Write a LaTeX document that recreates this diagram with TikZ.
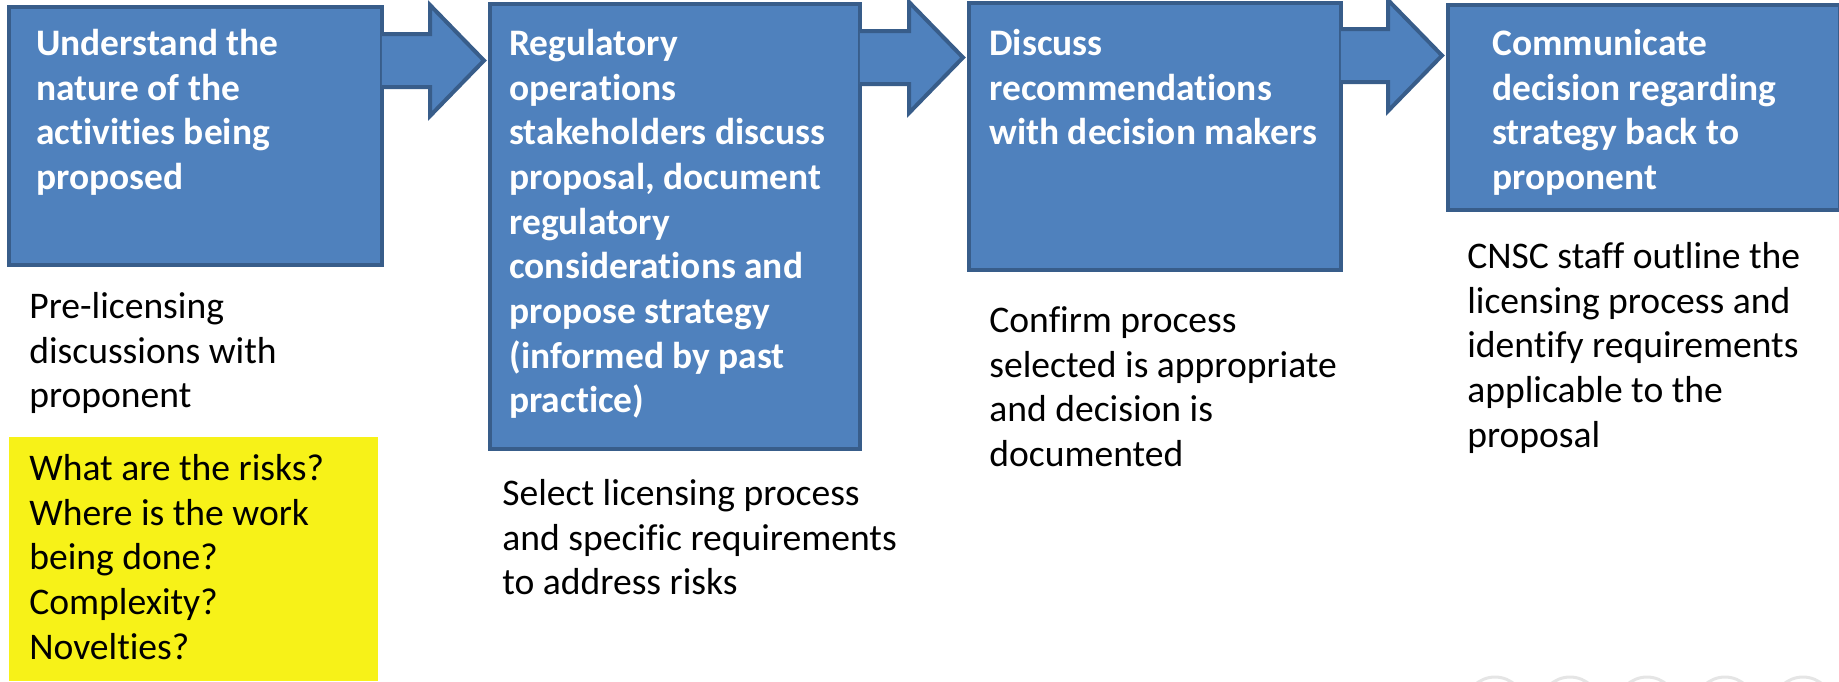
\documentclass[tikz,border=0pt]{standalone}
\usepackage{fontspec}
\setmainfont[Ligatures=NoCommon]{Carlito}
\usetikzlibrary{calc}
\definecolor{boxblue}{RGB}{79,129,189}
\definecolor{boxedge}{RGB}{56,93,138}
\definecolor{notebg}{RGB}{247,242,24}

% block arrow between two step boxes, #3 = height of its axis
\newcommand{\blockarrow}[3]{%
  \coordinate (ba-m) at (0,#3);
  \filldraw[arrowbody] ($(#1.east |- ba-m)+(-2,-26.5)$) -- ($(#2.west |- ba-m)+(-58,-26.5)$)
    -- ($(#2.west |- ba-m)+(-58,-55.5)$) -- ($(#2.west |- ba-m)+(-4,0)$)
    -- ($(#2.west |- ba-m)+(-58,55.5)$) -- ($(#2.west |- ba-m)+(-58,26.5)$)
    -- ($(#1.east |- ba-m)+(-2,26.5)$);
}

\begin{document}
\begin{tikzpicture}[x=0.02cm,y=-0.02cm,
  stepbox/.style={rectangle, draw=boxedge, fill=boxblue, line width=0.08cm, anchor=north west, inner sep=0pt},
  steptext/.style={anchor=north west, inner sep=0pt, align=left, text=white, font=\fontsize{21.3}{25.44}\selectfont\bfseries},
  notetext/.style={anchor=north west, inner sep=0pt, align=left, font=\fontsize{21.4}{25.44}\selectfont},
  arrowbody/.style={fill=boxblue, draw=boxedge, line width=0.08cm, line join=miter}]
  \useasboundingbox (0,0) rectangle (1839,681);

  % the four steps
  \node[stepbox, minimum width=7.46cm, minimum height=5.16cm] (understand) at (7,5) {};
  \node[stepbox, minimum width=7.40cm, minimum height=8.90cm] (regulatory) at (488,2) {};
  \node[stepbox, minimum width=7.44cm, minimum height=5.34cm] (discuss) at (967,1) {};
  \node[stepbox, minimum width=7.84cm, minimum height=4.10cm] (communicate) at (1446,3) {};

  \blockarrow{understand}{regulatory}{60.5}
  \blockarrow{regulatory}{discuss}{57.5}
  \blockarrow{discuss}{communicate}{55.5}

  \node[steptext] (understandtxt) at ($(understand.north west)+(29,18.7)$)
    {\strut Understand the\\nature of the\\activities being\\proposed};
  \node[steptext] (regulatorytxt) at ($(regulatory.north west)+(21,21.7)$)
    {\strut Regulatory\\operations\\stakeholders discuss\\proposal, document\\regulatory\\considerations and\\propose strategy\\(informed by past\\practice)};
  \node[steptext] (discusstxt) at ($(discuss.north west)+(22,22.7)$)
    {\strut Discuss\\recommendations\\with decision makers};
  \node[steptext] (communicatetxt) at ($(communicate.north west)+(46,20.7)$)
    {\strut Communicate\\decision regarding\\strategy back to\\proponent};

  % notes below the steps
  \node[notetext] (prelic) at (29,286.7) {\strut Pre-licensing\\discussions with\\proponent};
  \node[fill=notebg, anchor=north west, inner sep=0pt, minimum width=7.38cm, minimum height=4.88cm] (risks) at (9,437) {};
  \node[notetext] (riskstxt) at (29,448.7) {\strut What are the risks?\\Where is the work\\being done?\\Complexity?\\Novelties?};
  \node[notetext] (select) at (502,473.7) {\strut Select licensing process\\and specific requirements\\to address risks};
  \node[notetext] (confirm) at (989,300.7) {\strut Confirm process\\selected is appropriate\\and decision is\\documented};
  \node[notetext] (outline) at (1467,236.7) {\strut CNSC staff outline the\\licensing process and\\identify requirements\\applicable to the\\proposal};

  \begin{scope}
    \clip (0,0) rectangle (1839,681);
    \foreach \cx in {1495,1570,1647,1725,1803}
      \draw[gray!20, line width=0.06cm] (\cx,707) circle (0.6cm);
  \end{scope}
\end{tikzpicture}
\end{document}
